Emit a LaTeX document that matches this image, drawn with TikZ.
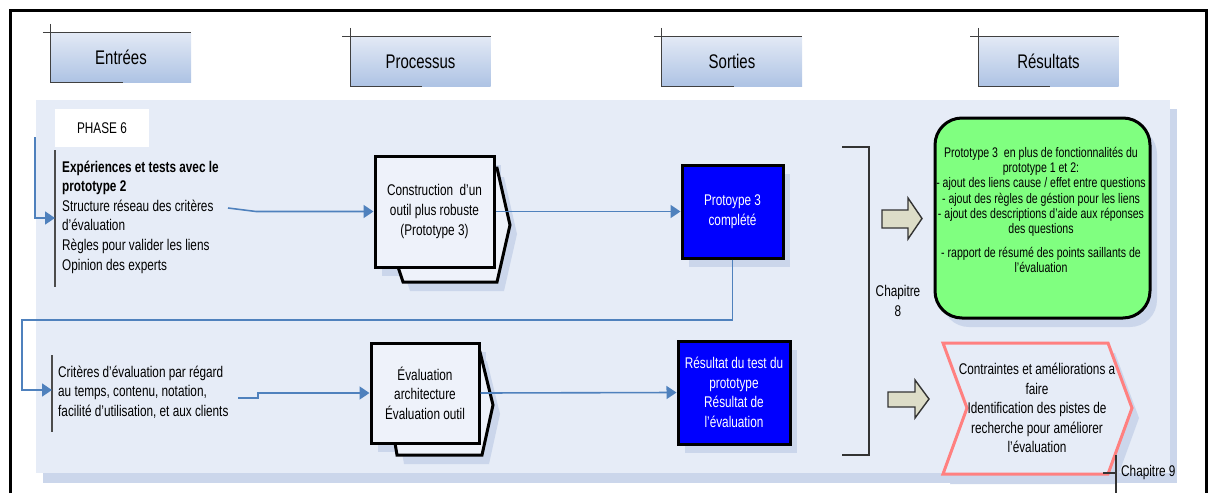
\documentclass[tikz,border=0pt]{standalone}
\usepackage{fontspec}
\setmainfont[FakeStretch=0.76]{Liberation Sans}
\usetikzlibrary{arrows.meta}

\definecolor{panelbg}{RGB}{230,236,247}
\definecolor{shadowc}{RGB}{203,214,235}
\definecolor{linkblue}{RGB}{79,129,189}
\definecolor{hdrtop}{RGB}{226,233,245}
\definecolor{hdrbot}{RGB}{174,195,228}
\definecolor{procfill}{RGB}{238,242,250}
\definecolor{outblue}{RGB}{0,0,255}
\definecolor{resgreen}{RGB}{128,255,128}
\definecolor{respink}{RGB}{255,128,128}
\definecolor{arrowbeige}{RGB}{221,221,200}

\newcommand\txtbody{\fontsize{15.5}{19.6}\selectfont}
\newcommand\txthdr{\fontsize{19.7}{22}\selectfont}
\newcommand\txtgreen{\fontsize{13.9}{15.3}\selectfont}

\begin{document}
\begin{tikzpicture}[x=1pt,y=-1pt,
  hdr/.style={minimum width=140, minimum height=49, inner sep=0,
    top color=hdrtop, bottom color=hdrbot, font=\txthdr},
  hdrline/.style={draw=black!75, line width=1.1},
  bar/.style={draw=black!70, line width=1.4},
  bracket/.style={draw=black!80, line width=1.2},
  link/.style={draw=linkblue, line width=1.6, -{Triangle[length=10pt,width=13pt]}},
  procbox/.style={draw=black, line width=3, fill=procfill, inner sep=0,
    align=center, font=\txtbody},
  procback/.style={draw=black, line width=3, fill=procfill},
  outbox/.style={draw=black, line width=3, fill=outblue, text=white, inner sep=0,
    align=center, font=\txtbody},
  beigearrow/.style={draw=black!80, line width=1.4, fill=arrowbeige},
  textblock/.style={inner sep=0, font=\txtbody}]

\useasboundingbox (0,0) rectangle (1211,493);

% outer frame
\draw[line width=3] (10,493) -- (10,10) -- (1206,10) -- (1206,493);

% column headers
\node[hdr] (hin)   at (121,57.5)   {Entrées};
\node[hdr] (hproc) at (420.5,61.5) {Processus};
\node[hdr] (hout)  at (732,61.5)   {Sorties};
\node[hdr] (hres)  at (1048.5,61.5) {Résultats};
\foreach \h in {hin,hproc,hout,hres}{
  \draw[hdrline] ([xshift=-8pt]\h.north west) -- (\h.north east);
  \draw[hdrline] ([yshift=9pt]\h.north west) -- (\h.south west) -- ([xshift=72pt]\h.south west);
}

% phase panel with its shadow
\fill[shadowc] (43,109) rectangle (1177,483);
\fill[panelbg] (36,100) rectangle (1170,473);

\node[fill=white, minimum width=94, minimum height=38, inner sep=0, font=\txtbody]
  (phase) at (102,128) {PHASE 6};

% inputs
\draw[bar] (55,150) -- (55,287);
\node[textblock, anchor=west, align=left] (in1) at (62,217)
  {\textbf{Expériences et tests avec le}\\\textbf{prototype 2}\\Structure réseau des critères\\d’évaluation\\Règles pour valider les liens\\Opinion des experts};

\draw[bar] (52,355) -- (52,432);
\node[textblock, anchor=west, align=left] (in2) at (58,392)
  {Critères d’évaluation par régard\\au temps, contenu, notation,\\facilité d’utilisation, et aux clients};

\coordinate (feed1) at (35,137);
\coordinate (bar1) at (55,218);
\draw[link] (feed1) |- (bar1);

% process 1: construction
\fill[shadowc, shift={(7,9)}] (398,168) -- (497,168) -- (510,225) -- (497,282) -- (403,282) -- (398,267) -- cycle;
\fill[shadowc, shift={(7,9)}] (375,156) rectangle (494,267);
\draw[procback] (398,168) -- (497,168) -- (510,225) -- (497,282) -- (403,282) -- (398,267) -- cycle;
\node[procbox, minimum width=119, minimum height=111] (cons) at (434.5,211.5)
  {Construction\ \ d’un\\outil plus robuste\\(Prototype 3)};

\coordinate (in1out) at (228,208);
\draw[link] (in1out) -- (256,211.5) -- (cons.west);

% output 1
\fill[shadowc, shift={(7,9)}] (682,165) rectangle (783,258);
\node[outbox, minimum width=101, minimum height=93] (proto) at (732.5,211.5)
  {Protoype 3\\complété};
\draw[link] (cons.east) -- (proto.west);

% feedback into the second input group
\coordinate (bar2) at (52,390);
\draw[link] (proto.south) |- (22,320) |- (bar2);

% process 2: evaluation
\fill[shadowc, shift={(7,9)}] (395,352) -- (480,352) -- (493,405) -- (482,455) -- (397,455) -- (395,443) -- cycle;
\fill[shadowc, shift={(7,9)}] (371,343) rectangle (479,443);
\draw[procback] (395,352) -- (480,352) -- (493,405) -- (482,455) -- (397,455) -- (395,443) -- cycle;
\node[procbox, minimum width=108, minimum height=100] (ev) at (425,393)
  {Évaluation\\architecture\\Évaluation outil};

\coordinate (in2out) at (238,398);
\draw[link] (in2out) -- (258,398) -- (258,393) -- (ev.west);

% output 2
\fill[shadowc, shift={(7,9)}] (678,341) rectangle (790,444);
\node[outbox, minimum width=112, minimum height=103] (res) at (734,392.5)
  {Résultat du test du\\prototype\\Résultat de\\l’évaluation};
\draw[link] (ev.east) -- (res.west);

% chapter 8 bracket
\draw[bracket] (842,147) -- (869,147) -- (869,455) -- (842,455);
\node[textblock, align=center] (ch8) at (898,301) {Chapitre\\8};

% block arrows
\draw[beigearrow] (882,210) -- (908,210) -- (908,198) -- (922,218.5) -- (908,239) -- (908,228) -- (882,228) -- cycle;
\draw[beigearrow] (888,392) -- (915,392) -- (915,380) -- (929,399) -- (915,418) -- (915,407) -- (888,407) -- cycle;

% result 1
\fill[shadowc, rounded corners=27, shift={(7,9)}] (935,118) rectangle (1150,318);
\node[draw, line width=3, fill=resgreen, rounded corners=27, minimum width=215,
  minimum height=200] (gr) at (1042.5,218) {};
\node[inner sep=0, font=\txtgreen, align=center] (grtext) at (1041,210)
  {Prototype 3\ \ en plus de fonctionnalités du\\prototype 1 et 2:\\- ajout des liens cause / effet entre questions\\- ajout des règles de géstion pour les liens\\- ajout des descriptions d’aide aux réponses\\des questions\\[8.7pt]- rapport de résumé des points saillants de\\l’évaluation};

% result 2
\fill[shadowc, shift={(7,10)}] (943,343) -- (1108,343) -- (1132,408) -- (1108,474) -- (943,474) -- (967,408) -- cycle;
\draw[respink, line width=3, fill=panelbg] (943,343) -- (1108,343) -- (1132,408) -- (1108,474) -- (943,474) -- (967,408) -- cycle;
\node[textblock, align=center] (ctr) at (1037,408)
  {Contraintes et améliorations a\\faire\\Identification des pistes de\\recherche pour améliorer\\l’évaluation};

% chapter 9 marker
\draw[bracket] (1103,473) -- (1116,473);
\draw[bracket] (1116,455) -- (1116,493);
\node[textblock, anchor=west] (ch9) at (1121,472) {Chapitre 9};

\end{tikzpicture}
\end{document}
